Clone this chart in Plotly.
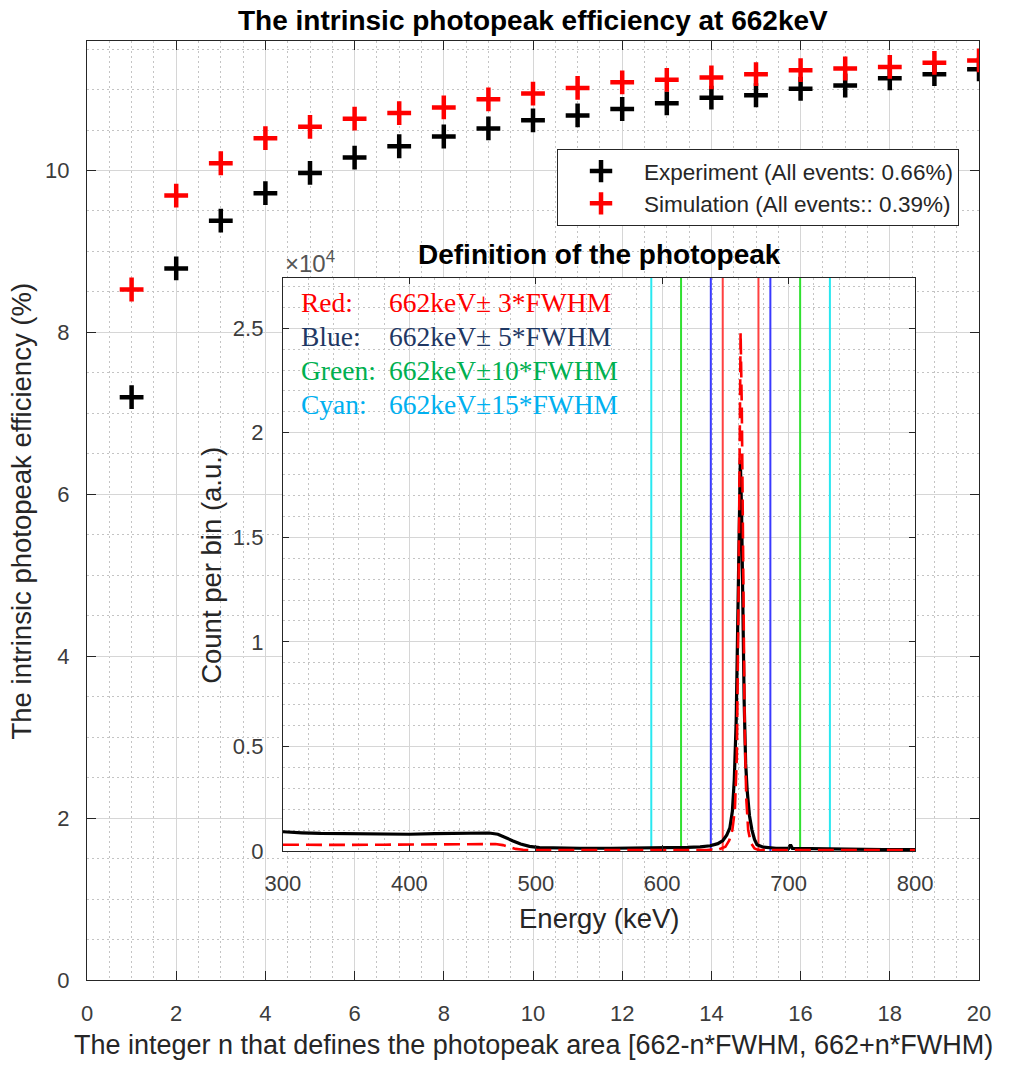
import plotly.graph_objects as go

# ---- efficiency versus the window half-width n (in units of FWHM) ----
n_values = list(range(1, 21))
eff_experiment = [7.20, 8.79, 9.38, 9.72, 9.97, 10.16, 10.30, 10.42, 10.52, 10.62,
                  10.68, 10.76, 10.83, 10.90, 10.93, 11.01, 11.05, 11.14, 11.19, 11.25]
eff_simulation = [8.53, 9.69, 10.09, 10.40, 10.54, 10.64, 10.71, 10.78, 10.88, 10.95,
                  11.02, 11.09, 11.12, 11.15, 11.19, 11.24, 11.26, 11.28, 11.33, 11.36]
legend_names = ["Experiment (All events: 0.66%)", "Simulation (All events:: 0.39%)"]

# ---- energy spectra around the 662 keV line (counts in units of 1e4) ----
exp_energy = [300, 305, 315, 330, 345, 360, 380, 400, 420, 440, 455, 463, 470, 476,
              482, 488, 495, 503, 515, 535, 560, 585, 605, 620, 630, 638, 644, 648,
              651, 653.5, 655.5, 657, 658.5, 659.7, 660.8, 661.8, 662.8, 663.8, 664.8,
              666, 667.2, 669, 671, 673, 675, 680, 690, 700, 701.5, 703, 720, 750,
              775, 800]
exp_counts = [0.092, 0.090, 0.087, 0.084, 0.083, 0.081, 0.080, 0.080, 0.083, 0.085,
              0.087, 0.086, 0.080, 0.066, 0.048, 0.033, 0.022, 0.016, 0.014, 0.013,
              0.013, 0.014, 0.015, 0.017, 0.020, 0.025, 0.035, 0.050, 0.075, 0.11,
              0.19, 0.34, 0.62, 1.05, 1.50, 1.87, 1.62, 1.12, 0.72, 0.42, 0.29, 0.17,
              0.10, 0.055, 0.030, 0.018, 0.013, 0.012, 0.03, 0.012, 0.010, 0.008,
              0.007, 0.006]

sim_energy = [300, 320, 350, 380, 410, 440, 460, 468, 474, 479, 484, 490, 498, 530,
              570, 610, 635, 645, 650, 653, 655.5, 657.5, 659, 660.2, 661.2, 662,
              663, 664, 665.2, 666.5, 668, 670, 673, 676, 700, 740, 800]
sim_counts = [0.030, 0.029, 0.029, 0.030, 0.030, 0.031, 0.033, 0.033, 0.028, 0.019,
              0.010, 0.006, 0.004, 0.004, 0.004, 0.004, 0.005, 0.008, 0.020, 0.050,
              0.10, 0.20, 0.45, 1.10, 2.00, 2.48, 2.10, 1.30, 0.60, 0.25, 0.10, 0.04,
              0.012, 0.005, 0.004, 0.004, 0.004]

# ---- photopeak windows: 662 keV +/- n*FWHM ----
peak_energy = 662.0
fwhm_kev = 4.71
window_n = [3, 5, 10, 15]
window_names = ["Red:", "Blue:", "Green:", "Cyan:"]
window_line_colors = ["#ff4040", "#3a3aff", "#30e030", "#28e8f0"]
window_text_colors = ["#ff0000", "#1f3864", "#00b050", "#00b0f0"]

FONT = "Liberation Sans, Arial, Helvetica, sans-serif"
SERIF = "Liberation Serif, Times New Roman, serif"
AXIS = "#262626"
TICKTXT = "#3c3c3c"

main_x_range = [0, 20]
main_y_range = [0, 11.6]
inset_x_range = [300, 800]
inset_y_range = [0, 2.74]
inset_dom_x = [0.2197, 0.9283]
inset_dom_y = [0.1374, 0.7476]

fig = go.Figure()

# opaque backdrop for the inset plotting area (drawn on the main axes)
bx0 = main_x_range[0] + inset_dom_x[0] * (main_x_range[1] - main_x_range[0])
bx1 = main_x_range[0] + inset_dom_x[1] * (main_x_range[1] - main_x_range[0])
by0 = main_y_range[0] + inset_dom_y[0] * (main_y_range[1] - main_y_range[0])
by1 = main_y_range[0] + inset_dom_y[1] * (main_y_range[1] - main_y_range[0])
fig.add_trace(go.Scatter(x=[bx0, bx1, bx1, bx0, bx0], y=[by0, by0, by1, by1, by0],
                         mode="lines", fill="toself", fillcolor="white",
                         line=dict(width=0, color="white"), hoverinfo="skip",
                         showlegend=False, xaxis="x", yaxis="y"))

for vals, color, name in [(eff_experiment, "black", legend_names[0]),
                          (eff_simulation, "#ff0000", legend_names[1])]:
    fig.add_trace(go.Scatter(
        x=n_values, y=vals, mode="markers", name=name,
        marker=dict(symbol="cross-thin", size=17, color=color,
                    line=dict(width=4.5, color=color)),
        xaxis="x", yaxis="y"))

# window boundaries in the inset
for n, col in zip(window_n, window_line_colors):
    for sign in (-1, 1):
        e = peak_energy + sign * n * fwhm_kev
        fig.add_trace(go.Scatter(x=[e, e], y=inset_y_range, mode="lines",
                                 line=dict(color=col, width=2),
                                 hoverinfo="skip", showlegend=False,
                                 xaxis="x2", yaxis="y2"))

fig.add_trace(go.Scatter(x=exp_energy, y=exp_counts, mode="lines",
                         line=dict(color="black", width=3.2),
                         showlegend=False, xaxis="x2", yaxis="y2"))
fig.add_trace(go.Scatter(x=sim_energy, y=sim_counts, mode="lines",
                         line=dict(color="#ff0000", width=2.6, dash="16px,7px"),
                         showlegend=False, xaxis="x2", yaxis="y2"))


def axis_style(rng, dtick, minor_dtick, ticklen, standoff, **kw):
    d = dict(range=rng, dtick=dtick, tick0=rng[0], ticks="inside", ticklen=ticklen,
             tickwidth=1.2, tickcolor=AXIS, mirror="ticks", showline=True,
             linecolor=AXIS, linewidth=1.3, showgrid=True, gridcolor="#d6d6d6",
             gridwidth=1, zeroline=False,
             minor=dict(dtick=minor_dtick, showgrid=True, gridcolor="#c4c4c4",
                        griddash="2px,3px", gridwidth=1, ticks=""),
             tickfont=dict(family=FONT, size=22, color=TICKTXT),
             ticklabelstandoff=standoff)
    d.update(kw)
    return d


annotations = [
    dict(text="<b>The intrinsic photopeak efficiency at 662keV</b>", x=0.5, y=1.0,
         xref="paper", yref="paper", xanchor="center", yanchor="bottom", yshift=3,
         showarrow=False, font=dict(family=FONT, size=28, color="black")),
    dict(text="The integer n that defines the photopeak area [662-n*FWHM, 662+n*FWHM)",
         x=0.5, y=-0.0692, xref="paper", yref="paper", xanchor="center",
         yanchor="middle", showarrow=False, font=dict(family=FONT, size=27, color=AXIS)),
    dict(text="The intrinsic photopeak efficiency (%)", x=-0.0729, y=0.5,
         xref="paper", yref="paper", xanchor="center", yanchor="middle",
         textangle=-90, showarrow=False, font=dict(family=FONT, size=27.5, color=AXIS)),
    dict(text="<b>Definition of the photopeak</b>", x=0.574, y=0.7721,
         xref="paper", yref="paper", xanchor="center", yanchor="middle",
         showarrow=False, font=dict(family=FONT, size=28, color="black")),
    dict(text="Energy (keV)", x=0.574, y=0.066, xref="paper", yref="paper",
         xanchor="center", yanchor="middle", showarrow=False,
         font=dict(family=FONT, size=27.5, color=AXIS)),
    dict(text="Count per bin (a.u.)", x=0.140, y=0.442, xref="paper", yref="paper",
         xanchor="center", yanchor="middle", textangle=-90, showarrow=False,
         font=dict(family=FONT, size=27.5, color=AXIS)),
    dict(text="×10<sup>4</sup>", x=inset_dom_x[0], y=0.7646, xref="paper",
         yref="paper", xanchor="left", yanchor="middle", showarrow=False,
         font=dict(family=FONT, size=24, color="#555555")),
]

row_y = [0.721, 0.6848, 0.6496, 0.6134]
for name, n, col, yy in zip(window_names, window_n, window_text_colors, row_y):
    annotations.append(dict(text=name, x=0.2377, y=yy, xref="paper", yref="paper",
                            xanchor="left", yanchor="middle", showarrow=False,
                            font=dict(family=SERIF, size=27.5, color=col)))
    annotations.append(dict(text=f"{peak_energy:.0f}keV±{n:>2d}*FWHM",
                            x=0.3363, y=yy, xref="paper", yref="paper",
                            xanchor="left", yanchor="middle", showarrow=False,
                            font=dict(family=SERIF, size=27.5, color=col)))

fig.update_layout(
    width=1018, height=1065,
    margin=dict(l=87, r=39, t=41, b=85),
    paper_bgcolor="white", plot_bgcolor="white",
    font=dict(family=FONT, color=AXIS),
    xaxis=axis_style(main_x_range, 2, 0.5, 9, 13, domain=[0, 1], anchor="y"),
    yaxis=axis_style(main_y_range, 2, 0.5, 9, 12, domain=[0, 1], anchor="x"),
    xaxis2=axis_style(inset_x_range, 100, 20, 6, 12, domain=inset_dom_x, anchor="y2"),
    yaxis2=axis_style(inset_y_range, 0.5, 0.1, 6, 14, domain=inset_dom_y, anchor="x2"),
    legend=dict(x=0.9776, xanchor="right", y=0.885, yanchor="top",
                bgcolor="white", bordercolor=AXIS, borderwidth=1,
                font=dict(family=FONT, size=22.5, color=AXIS), itemwidth=76,
                tracegroupgap=0),
    annotations=annotations,
    showlegend=True,
)

fig.write_html("out.html")
